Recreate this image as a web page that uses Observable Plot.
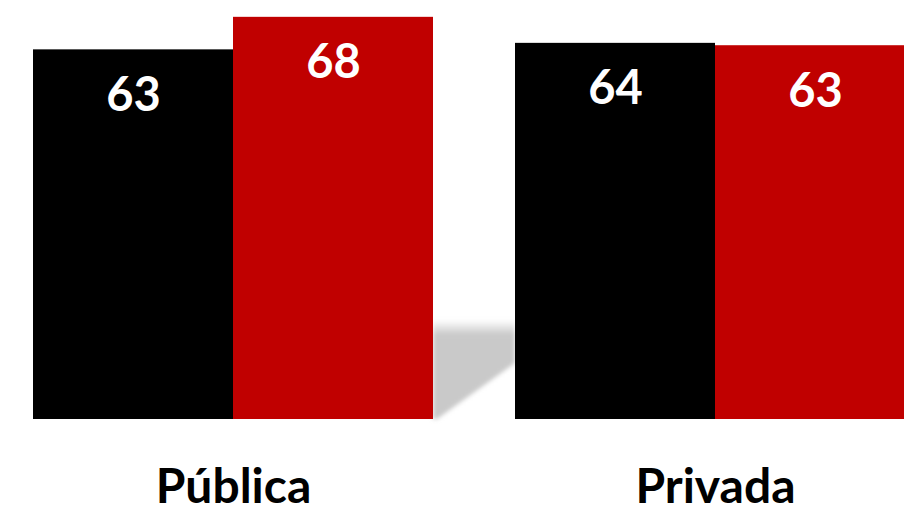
<!DOCTYPE html>
<html><head><meta charset="utf-8">
<script src="https://cdn.jsdelivr.net/npm/d3@7"></script>
<script src="https://cdn.jsdelivr.net/npm/@observablehq/plot@0.6"></script>
<style>
html,body{margin:0;padding:0;background:#fff;overflow:hidden;width:904px;height:509px}
#chart svg{max-width:none !important;height:509px !important}
#chart svg text{font-weight:700}
</style></head><body><div id="chart"></div>
<script>
const groups = ["Pública", "Privada"];
const series = ["Serie 1", "Serie 2"];
const values = [62.5, 68.0, 63.6, 63.2];
const labels = ["63", "68", "64", "63"];
const colors = ["#000000", "#C00000"];

const data = values.map((v, i) => ({
  group: groups[Math.floor(i / 2)],
  series: series[i % 2],
  value: v,
  label: labels[i]
}));

const chart = Plot.plot({
  width: 915, height: 509,
  marginLeft: 33, marginRight: 0, marginTop: 5, marginBottom: 90,
  style: {fontFamily: "Lato, 'Open Sans', sans-serif", background: "#fff"},
  fx: {domain: groups, paddingInner: 82 / 482, paddingOuter: 0, label: null},
  x: {domain: series, padding: 0, axis: null},
  y: {domain: [0, 70], axis: null},
  color: {domain: series, range: colors},
  marks: [
    Plot.barY(data, {fx: "group", x: "series", y: "value", fill: "series"}),
    Plot.text(data, {fx: "group", x: "series", y: "value", text: "label", dy: 46,
      fill: "white", fontSize: 47, fontWeight: "bold", lineAnchor: "middle"}),
    Plot.axisFx({anchor: "bottom", tickSize: 0, tickPadding: 49, fontSize: 48, fontWeight: "bold", label: null, fill: "black"})
  ]
});
document.getElementById("chart").appendChild(chart);

// decorative shadow between the two groups, positioned from the scales
const fx = chart.scale("fx"), y = chart.scale("y");
const off = 33 - fx.apply(groups[0]);
const x0 = fx.apply(groups[0]) + off + fx.bandwidth;
const x1 = fx.apply(groups[1]) + off;
const y0 = y.apply(0);
const yTop = y0 - 99;
const ns = "http://www.w3.org/2000/svg";
const defs = document.createElementNS(ns, "defs");
defs.innerHTML = `<linearGradient id="shg" gradientUnits="userSpaceOnUse" x1="0" y1="${yTop}" x2="0" y2="${yTop + 15}">
<stop offset="0" stop-color="#c9c9c9" stop-opacity="0"/><stop offset="1" stop-color="#c9c9c9" stop-opacity="1"/></linearGradient>
<filter id="shb" x="-20%" y="-20%" width="140%" height="140%"><feGaussianBlur stdDeviation="2"/></filter>`;
const poly = document.createElementNS(ns, "polygon");
poly.setAttribute("points", `${x0},${yTop} ${x1},${yTop} ${x1},${y0 - 56} ${x0 + 4},${y0} ${x0},${y0}`);
poly.setAttribute("fill", "url(#shg)");
poly.setAttribute("filter", "url(#shb)");
chart.insertBefore(defs, chart.firstChild);
const barG = chart.querySelector('g[aria-label="bar"]');
chart.insertBefore(poly, barG);
</script></body></html>
